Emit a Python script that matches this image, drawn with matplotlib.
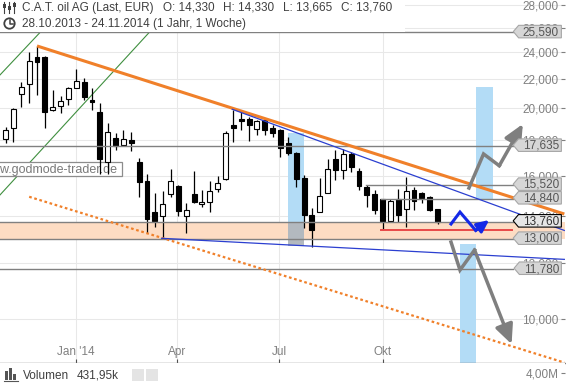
import matplotlib
matplotlib.use('Agg')
import numpy as np
import pandas as pd
import matplotlib.pyplot as plt
import matplotlib.dates as mdates
import matplotlib.transforms as mtransforms
from matplotlib.path import Path
from matplotlib.patches import Rectangle, Circle
from matplotlib.lines import Line2D
from matplotlib.ticker import FixedLocator, FuncFormatter, NullLocator

plt.rcParams['font.family'] = ['Liberation Sans', 'DejaVu Sans']

weekStart = pd.date_range('2013-10-28', periods=56, freq='7D')
opens = [18020, 18680, 20890, 21610, 23590, 23590, 19820, 20100, 20550, 21310,
         21770, 20500, 19690, 16740, 18080, 17690, 17980, 16740, 15730, 14200,
         14020, 15060, 15470, 14020, 15060, 14580, 14660, 15300, 15820, 18890,
         19260, 19260, 18620, 19200, 18680, 18580, 17790, 17210, 15860, 14060,
         14200, 15130, 16880, 16300, 17170, 16260, 15400, 15050, 14800, 13790,
         14800, 14340, 15260, 15100, 14900, 14330]
highs = [18750, 19950, 21770, 24020, 24480, 23650, 21190, 20770, 21420, 22670,
         22010, 21310, 20320, 18990, 18380, 18580, 18480, 16930, 16080, 15100,
         15210, 16350, 15500, 14640, 16250, 15260, 15730, 15980, 18540, 19840,
         19690, 19410, 19200, 19300, 18890, 18640, 18180, 17270, 16030, 14380,
         15860, 16880, 17400, 17440, 17310, 16390, 15520, 15260, 14840, 14800,
         15310, 15910, 15400, 15180, 14960, 14330]
lows = [17790, 17880, 20020, 20280, 20840, 18680, 19800, 19630, 20170, 21300,
        20500, 19840, 16110, 16110, 17430, 17630, 17340, 14900, 13240, 13530,
        13030, 14900, 14020, 13270, 14650, 14460, 14180, 15180, 15770, 17880,
        18560, 17940, 18280, 18280, 18180, 17020, 17120, 15400, 13490, 12670,
        14190, 15120, 15770, 15800, 16200, 15280, 14430, 14130, 13390, 13760,
        13760, 13530, 14300, 14630, 14250, 13665]
closes = [18580, 19920, 21380, 23330, 23230, 19690, 20060, 20430, 21310, 21840,
          20680, 20350, 16880, 18440, 17650, 18020, 17790, 15680, 13890, 13800,
          14560, 15720, 14270, 14300, 14670, 14680, 15210, 15610, 18380, 18680,
          19160, 18890, 19160, 18560, 18410, 17490, 17240, 15820, 14060, 13390,
          14980, 16340, 16300, 17170, 16450, 15490, 15020, 14300, 13800, 14730,
          14060, 15210, 14720, 14850, 14300, 13760]

# horizontale Marken und Preisschilder
levelPrices = [25590, 17635, 15520, 14840, 13760, 13000, 11780]
levelStarts = ['2013-10-01', '2013-10-01', '2014-09-16', '2014-09-30',
               '2013-10-01', '2013-10-01', '2013-10-01']
levelEnd = '2015-01-25'
lastPrice = 13760
zoneLow, zoneHigh = 13000, 13760
redLevel, redStart, redEnd = 13390, '2014-09-30', '2015-01-24'

# Trendlinien
orangeDates, orangePrices = ['2013-11-27', '2015-03-12'], [24480, 14110]
orangeDotDates, orangeDotPrices = ['2013-11-20', '2015-03-12'], [14930, 8670]
blueUpDates, blueUpPrices = ['2014-05-20', '2015-03-12'], [19890, 13370]
blueLowDates, blueLowPrices = ['2014-03-18', '2015-03-12'], [13030, 12160]
greenADates, greenAPrices = ['2013-10-25', '2013-11-30'], [22260, 25620]
greenBDates, greenBPrices = ['2013-10-25', '2014-03-07'], [15020, 25590]

# hellblaue Zeitfenster (links, rechts unten, rechts oben)
bandStarts = ['2014-07-09', '2014-12-09', '2014-12-23']
bandEnds = ['2014-07-23', '2014-12-23', '2015-01-07']
bandLows = [13760, 8500, 14800]
bandHighs = [18380, 12800, 21380]
grayBand = ('2014-07-09', '2014-07-23', 12700, 13760)

# Szenario-Pfeile
upDates = ['2014-12-17', '2014-12-30', '2015-01-13', '2015-02-03']
upPrices = [15365, 17180, 16530, 18950]
downDates = ['2014-12-01', '2014-12-09', '2014-12-22', '2015-01-24']
downPrices = [12870, 11740, 12540, 9210]
blueArrDates = ['2014-12-01', '2014-12-09', '2014-12-23', '2015-01-04']
blueArrPrices = [13655, 14200, 13370, 13835]

yTicks = list(range(10000, 28001, 2000))
xTickDates = ['2014-01-01', '2014-04-01', '2014-07-01', '2014-10-01']
xTickLabels = ["Jan '14", 'Apr', 'Jul', 'Okt']
volumeTicks, volumeTickLabels = [4e6], ['4,00M']
volumeLast = '431,95k'


def dnum(lst):
    return mdates.date2num(pd.to_datetime(lst))


W, H = 566, 384
fig = plt.figure(figsize=(W / 100, H / 100), dpi=100)
ax = fig.add_axes([0, 21 / H, 565 / W, 363 / H])
ax.set_yscale('log')

gray = '#808080'
orange = '#f0802a'
blue = '#2b3fd0'

# Zonen
ax.axhspan(zoneLow, zoneHigh, color='#fddcc3', lw=0, zorder=1)
for s, e, lo, hi in zip(bandStarts, bandEnds, bandLows, bandHighs):
    x0, x1 = dnum([s, e])
    ax.add_patch(Rectangle((x0, lo), x1 - x0, hi - lo, color='#b3dcf6', lw=0, zorder=1.2))
gx0, gx1 = dnum(list(grayBand[:2]))
ax.add_patch(Rectangle((gx0, grayBand[2]), gx1 - gx0, grayBand[3] - grayBand[2],
                       color='#b3b9bf', lw=0, zorder=1.2))

# Gruener Kanal
ax.plot(dnum(greenADates), greenAPrices, color='#3f8f3f', lw=0.8, zorder=1.5)
ax.plot(dnum(greenBDates), greenBPrices, color='#3f8f3f', lw=0.8, zorder=1.5)


def boxShape(padL, padR, tip, halfH, shift=0.0):
    def shape(x0, y0, width, height, mutation_size):
        m = mutation_size
        cy = y0 + height / 2 + shift * m
        l, r, hh = x0 - padL * m, x0 + width + padR * m, halfH * m
        verts = [(l, cy - hh), (r, cy - hh), (r, cy + hh), (l, cy + hh),
                 (l - tip * m, cy), (l, cy - hh)]
        return Path(verts, [Path.MOVETO] + [Path.LINETO] * 4 + [Path.CLOSEPOLY])
    return shape


# Wasserzeichen
ax.text(117.5 / 565, 1 - 169.5 / 363, 'www.godmode-trader.de', transform=ax.transAxes,
        ha='right', va='center', fontsize=9, color='#7a7a7a', zorder=1.8,
        bbox=dict(boxstyle=boxShape(0.34, 0.34, 0, 0.58, 0.05), fc='white', ec='#8c8c8c', lw=0.9))

# Kerzen
cx = mdates.date2num(weekStart) + 2
o, hgh, low, c = map(np.array, (opens, highs, lows, closes))
up = c >= o
ax.vlines(cx, low, hgh, colors='black', lw=0.9, zorder=2.9)
bot, hei = np.minimum(o, c), np.abs(c - o)
ax.bar(cx[up], hei[up], bottom=bot[up], width=4.4, color='white', edgecolor='black', lw=0.8, zorder=3)
ax.bar(cx[~up], hei[~up], bottom=bot[~up], width=4.4, color='black', edgecolor='black', lw=0.8, zorder=3)

# horizontale Linien
for p, s in zip(levelPrices, levelStarts):
    ax.plot(dnum([s, levelEnd]), [p, p], color=gray, lw=1, zorder=3.5)
ax.plot(dnum([redStart, redEnd]), [redLevel, redLevel], color='#e84848', lw=1.4, zorder=3.5)

# Trendlinien
ax.plot(dnum(orangeDates), orangePrices, color=orange, lw=2.2, solid_capstyle='butt', zorder=3.6)
ax.plot(dnum(orangeDotDates), orangeDotPrices, color=orange, lw=1.6, ls=(0, (1.2, 1.2)), zorder=3.6)
ax.plot(dnum(blueUpDates), blueUpPrices, color=blue, lw=0.9, zorder=3.6)
ax.plot(dnum(blueLowDates), blueLowPrices, color=blue, lw=0.9, zorder=3.6)


def drawArrow(dates, prices, color, lw, scale):
    xs = dnum(dates)
    ax.plot(xs[:-1], prices[:-1], color=color, lw=lw, solid_joinstyle='miter', zorder=5)
    ax.annotate('', xy=(xs[-1], prices[-1]), xytext=(xs[-2], prices[-2]), zorder=5,
                arrowprops=dict(arrowstyle='-|>,head_length=0.9,head_width=0.42', color=color,
                                lw=lw, mutation_scale=scale, shrinkA=0, shrinkB=0))


drawArrow(upDates, upPrices, '#7f7f7f', 2.5, 13)
drawArrow(downDates, downPrices, '#7f7f7f', 2.5, 13)
drawArrow(blueArrDates, blueArrPrices, '#1428e6', 2.2, 8)

# Preisschilder rechts
blend = mtransforms.blended_transform_factory(ax.transAxes, ax.transData)
for p in levelPrices:
    cur = p == lastPrice
    ax.text(559 / 565, p, f'{p:,}', transform=blend, ha='right', va='center', fontsize=8.5,
            color='#303030' if cur else '#555555', zorder=6,
            bbox=dict(boxstyle=boxShape(0.36, 0.2, 0.45, 0.53, 0.07),
                      fc='#e6e6e6' if cur else '#d6d6d6', ec='black' if cur else '#a6a6a6', lw=0.8))

# Achsen
jan1 = mdates.date2num(pd.Timestamp('2014-01-01'))
ax.set_xlim(jan1 - 68.0, jan1 + 435.6)
ax.set_ylim(8657, 28460)
ax.yaxis.set_major_locator(FixedLocator(yTicks))
ax.yaxis.set_minor_locator(NullLocator())
ax.yaxis.set_major_formatter(FuncFormatter(lambda v, _: f'{v:,.0f}'))
ax.yaxis.tick_right()
ax.set_xticks(dnum(xTickDates), xTickLabels)
ax.tick_params(axis='y', direction='in', length=3, width=0.8, color=gray, pad=-4.8,
               labelsize=8.5, labelcolor=gray)
ax.tick_params(axis='x', direction='in', length=3.2, width=0.8, color='#505050', pad=-12.5,
               labelsize=8.5, labelcolor=gray)
ax.grid(True, color='#e8e8e8', lw=0.75)
ax.set_axisbelow(True)
for side in ('left', 'top', 'right'):
    ax.spines[side].set_visible(False)
ax.spines['bottom'].set_color(gray)
ax.spines['bottom'].set_linewidth(1.0)

# Volumen-Leiste
vax = fig.add_axes([0, 0, 565 / W, 21 / H])
vax.set_xlim(ax.get_xlim())
vax.set_ylim(0, 7.64e6)
for s in vax.spines.values():
    s.set_visible(False)
vax.set_xticks([])
vax.yaxis.tick_right()
vax.set_yticks(volumeTicks, volumeTickLabels)
vax.tick_params(axis='y', direction='in', length=3, width=0.8, color=gray, pad=-4.8,
                labelsize=8.5, labelcolor=gray)
for a in (ax, vax):
    for t in a.yaxis.get_major_ticks():
        t.label2.set_horizontalalignment('right')

pix = mtransforms.IdentityTransform()


def fy(y):
    return H - y


# Kopfzeile
fig.add_artist(Rectangle((0, fy(31.5)), 405, 31.5, transform=pix, fc='white', ec='none', zorder=1))
txt = dict(fontsize=8.5, color='#404040', va='center')
fig.text(22 / W, 1 - 7.5 / H, 'C.A.T. oil AG (Last, EUR)', **txt)
for lab, val, xp in zip(['O', 'H', 'L', 'C'],
                        [opens[-1], highs[-1], lows[-1], closes[-1]], [163, 223, 283, 341]):
    fig.text(xp / W, 1 - 7.5 / H, f'{lab}: {val:,}', **txt)
fig.text(22 / W, 1 - 23.5 / H, '28.10.2013 - 24.11.2014 (1 Jahr, 1 Woche)', **txt)

# Symbole
for xp, (b0, b1) in zip([4, 9, 14], [(4, 8), (6, 10), (3, 7)]):
    fig.add_artist(Line2D([xp, xp], [fy(2), fy(13)], transform=pix, color='#404040', lw=0.8))
    fig.add_artist(Rectangle((xp - 1.5, fy(b1)), 3, b1 - b0, transform=pix, fc='#404040', ec='none'))
fig.add_artist(Circle((9.5, fy(23.5)), 5.2, transform=pix, fill=False, ec='#404040', lw=1.3))
fig.add_artist(Line2D([9.5, 9.5, 12.5], [fy(20), fy(23.5), fy(23.5)], transform=pix, color='#404040', lw=1.1))

for xp, h in zip([5, 9, 13], [9, 12, 6]):
    fig.add_artist(Rectangle((xp, fy(380)), 3.2, h, transform=pix, fc='#555555', ec='none'))
fig.add_artist(Line2D([4, 17.5], [fy(380.5), fy(380.5)], transform=pix, color='#555555', lw=0.8))
fig.text(23 / W, 1 - 376 / H, 'Volumen', **txt)
fig.text(77 / W, 1 - 376 / H, volumeLast, **txt)
for xp in (132, 145.5):
    fig.add_artist(Rectangle((xp, fy(381)), 12, 12, transform=pix, fc='#e4e4e4', ec='none'))

fig.savefig('out.png', dpi=100)
